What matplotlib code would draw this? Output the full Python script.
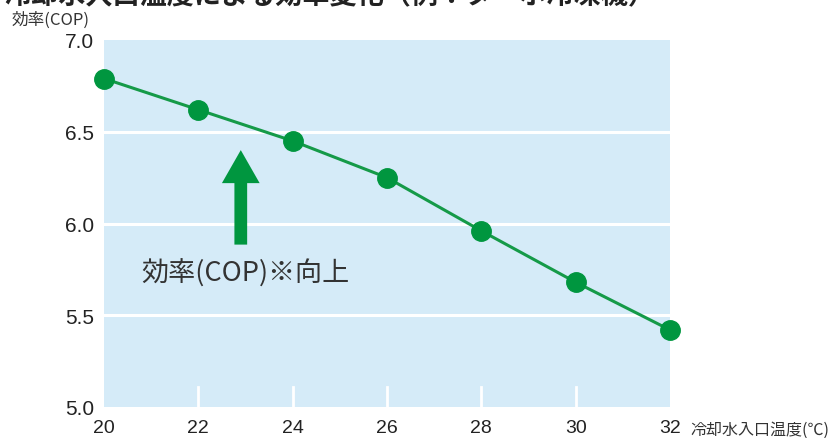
import matplotlib
matplotlib.use("Agg")
import matplotlib.pyplot as plt
from matplotlib.patches import FancyArrow

plt.rcParams['font.family'] = ['Noto Sans CJK JP', 'DejaVu Sans']

temps = [20, 22, 24, 26, 28, 30, 32]
cop = [6.79, 6.62, 6.45, 6.25, 5.96, 5.68, 5.42]
yticks = [5.0, 5.5, 6.0, 6.5, 7.0]
ytick_labels = ["5.0", "5.5", "6.0", "6.5", "7.0"]
title = "冷却水入口温度による効率変化（例：ターボ冷凍機）"
ylabel = "効率(COP)"
xlabel = "冷却水入口温度(℃)"
annot = "効率(COP)※向上"

fig = plt.figure(figsize=(8.38, 4.39), dpi=100)
ax = fig.add_axes([104/838, 1-408/439, 566/838, 367/439])
ax.set_facecolor('#d5ebf8')
ax.set_xlim(20, 32)
ax.set_ylim(5.0, 7.0)
for s in ax.spines.values():
    s.set_visible(False)

for y in [5.5, 6.0, 6.5]:
    ax.axhline(y, color='white', lw=2.2, zorder=1)
for x in temps[1:-1]:
    ax.plot([x, x], [5.0, 5.11], color='white', lw=2, zorder=1)

ax.plot(temps, cop, color='#159a48', lw=2.2, zorder=3, clip_on=False)
ax.plot(temps, cop, 'o', ms=14, color='#00963f', zorder=4, clip_on=False)

ax.add_patch(FancyArrow(22.9, 5.885, 0, 0.515, width=0.27, head_width=0.8,
                        head_length=0.18, length_includes_head=True,
                        color='#00963f', lw=0, zorder=3))
ax.text(23.0, 5.73, annot, ha='center', va='center', fontsize=19.5, color='#333333')

num_font = ['Liberation Sans', 'DejaVu Sans']
ax.set_xticks(temps)
ax.set_xticklabels([str(t) for t in temps], fontsize=14, color='#222222', family=num_font)
ax.set_yticks(yticks)
ax.set_yticklabels(ytick_labels, fontsize=15, color='#222222', family=num_font)
ax.tick_params(length=0)
ax.tick_params(axis='y', pad=7)
ax.tick_params(axis='x', pad=14.5)
for lbl in ax.get_xticklabels():
    lbl.set_verticalalignment('center')

fig.text(690/838, 1-430/439, xlabel, fontsize=11.5, color='#333333', va='center', ha='left')
fig.text(12/838, 1-20/439, ylabel, fontsize=12, color='#333333', va='center', ha='left')
fig.text(4/838, 0.991, title, fontsize=19.5, fontweight='bold', color='#222222', va='baseline', ha='left')

fig.savefig('out.png', dpi=100)
